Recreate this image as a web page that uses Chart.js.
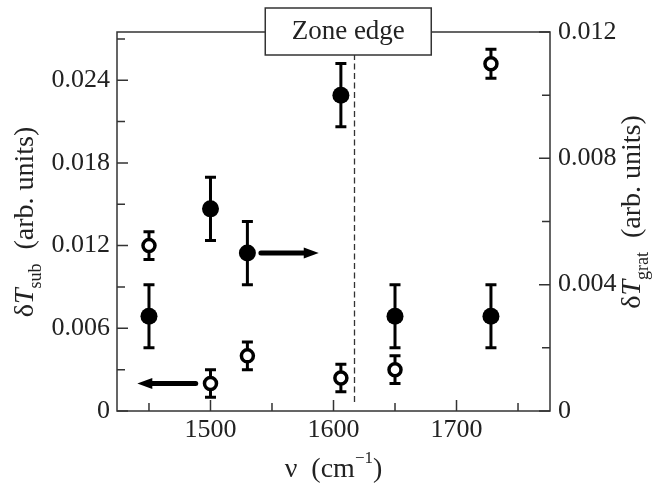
<!DOCTYPE html>
<html><head><meta charset="utf-8">
<script src="https://cdn.jsdelivr.net/npm/chart.js@4/dist/chart.umd.min.js"></script>
<style>html,body{margin:0;padding:0;background:#fff;}#wrap{width:660px;height:483px;}</style>
</head><body><div id="wrap"><canvas id="c" width="660" height="483"></canvas></div>
<script>
// ---- data ----
const wavenumbers = [1450, 1500, 1530, 1606, 1650, 1728];
const subValues  = [0.0120, 0.0020, 0.0040, 0.0024, 0.0030, 0.0252];   // open circles, left axis
const subErrors  = [0.0010, 0.0010, 0.0010, 0.0010, 0.0010, 0.00105];
const gratValues = [0.0030, 0.0064, 0.0050, 0.0100, 0.0030, 0.0030];   // filled circles, right axis
const gratErrors = [0.0010, 0.0010, 0.0010, 0.0010, 0.0010, 0.0010];
const xMajorTicks = [1500, 1600, 1700];
const xMinorTicks = [1450, 1550, 1650, 1750];
const leftMajorTicks  = [0, 0.006, 0.012, 0.018, 0.024];
const leftMinorTicks  = [0.003, 0.009, 0.015, 0.021, 0.027];
const rightMajorTicks = [0, 0.004, 0.008, 0.012];
const rightMinorTicks = [0.002, 0.006, 0.010];
const zoneEdge = 1617;
const zoneLabel = 'Zone edge';
const arrowTails  = [1488, 1541];
const arrowTips   = [1440.5, 1588];
const arrowLevels = [0.002, 0.005];
const arrowAxes   = ['yL', 'yR'];

const SERIF = '"Liberation Serif", "Times New Roman", serif';
const TXT = '#222';
const LINE = '#333';

function fmt(v){ return v === 0 ? '0' : v.toFixed(3); }
function isIn(arr, v){ return arr.some(a => Math.abs(a - v) < 1e-9); }

function drawRich(ctx, parts, cx, cy, rot){
  ctx.save();
  ctx.translate(cx, cy);
  ctx.rotate(rot);
  ctx.textBaseline = 'alphabetic';
  ctx.textAlign = 'left';
  ctx.fillStyle = TXT;
  let total = 0;
  parts.forEach(p => { ctx.font = p.font; p.w = ctx.measureText(p.t).width; total += p.w; });
  let xx = -total / 2;
  parts.forEach(p => { ctx.font = p.font; ctx.fillText(p.t, xx, p.dy || 0); xx += p.w; });
  ctx.restore();
}

const decor = {
  id: 'decor',
  beforeDatasetsDraw(chart){
    const {ctx, chartArea: a, scales} = chart;
    const x = scales.x;
    ctx.save();
    // zone edge dashed line
    ctx.strokeStyle = LINE; ctx.lineWidth = 1.3; ctx.setLineDash([6, 3.5]);
    const zx = Math.round(x.getPixelForValue(zoneEdge)) + 0.5;
    ctx.beginPath(); ctx.moveTo(zx, scales.yL.getPixelForValue(0.00065)); ctx.lineTo(zx, a.top); ctx.stroke();
    ctx.setLineDash([]);
    // error bars
    ctx.strokeStyle = '#000'; ctx.lineWidth = 3; ctx.lineCap = 'butt';
    const bars = (vals, errs, sc) => wavenumbers.forEach((w, i) => {
      const px = x.getPixelForValue(w);
      const t = sc.getPixelForValue(vals[i] + errs[i]);
      const b = sc.getPixelForValue(vals[i] - errs[i]);
      ctx.beginPath();
      ctx.moveTo(px, t); ctx.lineTo(px, b);
      ctx.moveTo(px - 5.5, t); ctx.lineTo(px + 5.5, t);
      ctx.moveTo(px - 5.5, b); ctx.lineTo(px + 5.5, b);
      ctx.stroke();
    });
    bars(subValues, subErrors, scales.yL);
    bars(gratValues, gratErrors, scales.yR);
    // arrows
    ctx.fillStyle = '#000';
    arrowTails.forEach((t, i) => {
      const sc = scales[arrowAxes[i]];
      const y = sc.getPixelForValue(arrowLevels[i]);
      const x0 = x.getPixelForValue(t), x1 = x.getPixelForValue(arrowTips[i]);
      const dir = Math.sign(x1 - x0), head = 15;
      ctx.lineWidth = 5; ctx.lineCap = 'round';
      ctx.beginPath(); ctx.moveTo(x0, y); ctx.lineTo(x1 - dir * head, y); ctx.stroke();
      ctx.beginPath(); ctx.moveTo(x1, y); ctx.lineTo(x1 - dir * head, y - 5.5); ctx.lineTo(x1 - dir * head, y + 5.5); ctx.closePath(); ctx.fill();
    });
    ctx.restore();
  },
  afterDraw(chart){
    const {ctx, chartArea: a, scales} = chart;
    ctx.save();
    // frame
    ctx.strokeStyle = LINE; ctx.lineWidth = 1.5;
    ctx.strokeRect(a.left, a.top, a.right - a.left, a.bottom - a.top);
    // inward ticks
    ctx.beginPath();
    scales.x.ticks.forEach(t => {
      const px = scales.x.getPixelForValue(t.value);
      const len = isIn(xMajorTicks, t.value) ? 11 : 8;
      ctx.moveTo(px, a.bottom); ctx.lineTo(px, a.bottom - len);
    });
    scales.yL.ticks.forEach(t => {
      const py = scales.yL.getPixelForValue(t.value);
      const len = isIn(leftMajorTicks, t.value) ? 11 : 8;
      ctx.moveTo(a.left, py); ctx.lineTo(a.left + len, py);
    });
    scales.yR.ticks.forEach(t => {
      const py = scales.yR.getPixelForValue(t.value);
      const len = isIn(rightMajorTicks, t.value) ? 11 : 8;
      ctx.moveTo(a.right, py); ctx.lineTo(a.right - len, py);
    });
    ctx.stroke();
    // zone edge box
    const bx = scales.x.getPixelForValue(1612);
    ctx.fillStyle = '#fff';
    ctx.fillRect(bx - 83, 8, 166, 47);
    ctx.strokeRect(bx - 83, 8, 166, 47);
    ctx.fillStyle = TXT; ctx.font = '27px ' + SERIF; ctx.textAlign = 'center'; ctx.textBaseline = 'alphabetic';
    ctx.fillText(zoneLabel, bx, 39);
    ctx.restore();
    // axis titles
    const F = '28px ' + SERIF, FI = 'italic 28px ' + SERIF, FS = '18px ' + SERIF;
    drawRich(ctx, [{t:'ν', font:F}, {t:'  (cm', font:F}, {t:'−1', font:'17px ' + SERIF, dy:-14}, {t:')', font:F}], (a.left + a.right) / 2, 477, 0);
    drawRich(ctx, [{t:'δ', font:F}, {t:'T', font:FI}, {t:'sub', font:FS, dy:8}, {t:'  (arb. units)', font:F}], 33, 222, -Math.PI / 2);
    drawRich(ctx, [{t:'δ', font:F}, {t:'T', font:FI}, {t:'grat', font:FS, dy:8}, {t:'  (arb. units)', font:F}], 640, 212, -Math.PI / 2);
  }
};

const tickFont = {family: SERIF, size: 26};
const axisGrid = {display: false, drawTicks: false};
new Chart(document.getElementById('c'), {
  type: 'scatter',
  data: {
    datasets: [
      { label: 'δT_sub', yAxisID: 'yL', data: wavenumbers.map((w, i) => ({x: w, y: subValues[i]})),
        pointRadius: 6, pointBorderWidth: 3.5, pointBackgroundColor: '#fff', pointBorderColor: '#000', pointHoverRadius: 6 },
      { label: 'δT_grat', yAxisID: 'yR', data: wavenumbers.map((w, i) => ({x: w, y: gratValues[i]})),
        pointRadius: 8.5, pointBorderWidth: 0, pointBackgroundColor: '#000', pointBorderColor: '#000', pointHoverRadius: 8.5 }
    ]
  },
  options: {
    responsive: false, animation: false, devicePixelRatio: 1,
    layout: {padding: {top: 32, left: 0, right: 0, bottom: 0}},
    plugins: {legend: {display: false}, tooltip: {enabled: false}},
    events: [],
    scales: {
      x: { type: 'linear', position: 'bottom', min: 1424, max: 1776,
        afterBuildTicks: s => { s.ticks = xMajorTicks.concat(xMinorTicks).sort((p, q) => p - q).map(v => ({value: v})); },
        afterFit: s => { s.height = 72; },
        grid: axisGrid, border: {display: false},
        ticks: {autoSkip: false, maxRotation: 0, padding: 4, font: tickFont, color: TXT,
          callback: v => isIn(xMajorTicks, v) ? String(v) : ''} },
      yL: { type: 'linear', position: 'left', min: 0, max: 0.0275,
        afterBuildTicks: s => { s.ticks = leftMajorTicks.concat(leftMinorTicks).sort((p, q) => p - q).map(v => ({value: v})); },
        afterFit: s => { s.width = 117; },
        grid: axisGrid, border: {display: false},
        ticks: {autoSkip: false, padding: 7, font: tickFont, color: TXT,
          callback: v => isIn(leftMajorTicks, v) ? fmt(v) : ''} },
      yR: { type: 'linear', position: 'right', min: 0, max: 0.012,
        afterBuildTicks: s => { s.ticks = rightMajorTicks.concat(rightMinorTicks).sort((p, q) => p - q).map(v => ({value: v})); },
        afterFit: s => { s.width = 110; },
        grid: axisGrid, border: {display: false},
        ticks: {autoSkip: false, padding: 8, font: tickFont, color: TXT,
          callback: v => isIn(rightMajorTicks, v) ? fmt(v) : ''} }
    }
  },
  plugins: [decor]
});
</script>
</body></html>
